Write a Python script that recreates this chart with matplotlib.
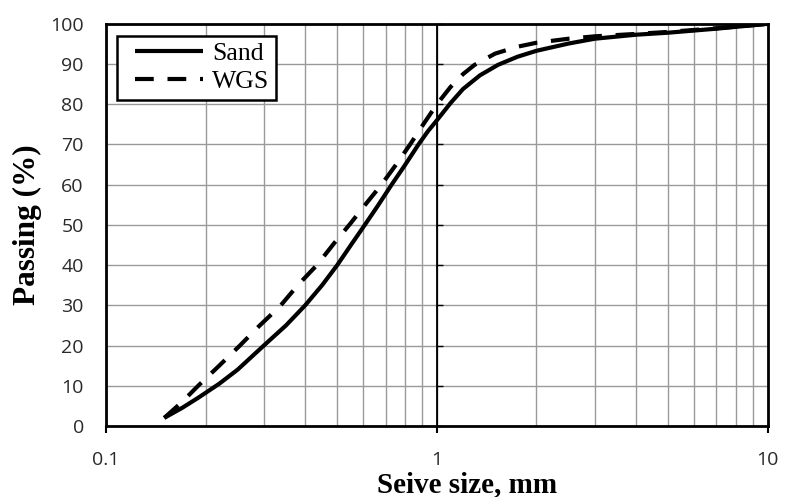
import matplotlib
matplotlib.use("Agg")
import matplotlib.pyplot as plt
from matplotlib.lines import Line2D
from matplotlib.legend_handler import HandlerLine2D
from matplotlib.ticker import NullFormatter, FixedLocator

# Grain size data (sieve size in mm, passing in %)
sand_size = [0.15, 0.17, 0.19, 0.22, 0.25, 0.3, 0.35, 0.4, 0.45, 0.5, 0.55, 0.6, 0.66, 0.73,
             0.8, 0.88, 0.94, 1.0, 1.1, 1.2, 1.35, 1.53, 1.75, 2.0, 2.5, 3.0, 4.0, 5.0, 7.0, 10.0]
sand_pass = [2, 4.5, 7, 10.5, 14, 20, 25, 30, 35, 40, 45, 49.5, 54.5, 60,
             64.8, 70, 73.3, 76, 80.3, 83.8, 87.2, 89.8, 91.8, 93.3, 95.1, 96.3, 97.3, 97.8, 98.8, 100]

wgs_size = [0.15, 0.17, 0.19, 0.22, 0.254, 0.29, 0.336, 0.38, 0.434, 0.49, 0.55, 0.61, 0.68,
            0.75, 0.83, 0.91, 1.0, 1.1, 1.2, 1.3, 1.5, 1.75, 2.0, 2.5, 3.0, 4.0, 5.0, 7.0, 10.0]
wgs_pass = [2, 6, 10, 15, 20, 24.8, 29.8, 35, 40, 45.5, 50.5, 55.2, 60,
            64.8, 70, 75, 80, 84.3, 87.5, 89.8, 92.6, 94.3, 95.3, 96.3, 96.9, 97.5, 98, 98.9, 100]

y_ticks = list(range(0, 101, 10))
x_ticks = [0.1, 1, 10]
x_tick_labels = ["0.1", "1", "10"]

tick_font = "Open Sans"
label_font = "Liberation Serif"

fig = plt.figure(figsize=(7.85, 4.97), dpi=100)
ax = fig.add_axes([0.135, 0.143, 0.843, 0.809])

ax.plot(sand_size, sand_pass, color="black", lw=3.0, label="Sand",
        solid_capstyle="butt", solid_joinstyle="round", zorder=3)
ax.plot(wgs_size, wgs_pass, color="black", lw=3.0, ls=(0, (4.5, 3.3)), label="WGS",
        dash_capstyle="butt", dash_joinstyle="round", zorder=3)

ax.set_xscale("log")
ax.set_xlim(0.1, 10)
ax.set_ylim(0, 100)
ax.set_yticks(y_ticks)
ax.set_xticks(x_ticks)
ax.set_xticklabels(x_tick_labels)
ax.xaxis.set_minor_formatter(NullFormatter())

ax.grid(True, which="both", color="#9a9a9a", lw=1.0)
ax.set_axisbelow(True)
for s in ax.spines.values():
    s.set_linewidth(2.0)
    s.set_color("black")

ax.tick_params(axis="x", which="major", direction="out", length=5, width=1.5, pad=13)
ax.tick_params(axis="x", which="minor", length=0)
ax.tick_params(axis="y", which="major", length=0, pad=16)
for lbl in ax.get_xticklabels() + ax.get_yticklabels():
    lbl.set_fontfamily(tick_font)
    lbl.set_fontsize(14)
    lbl.set_color("#2a2a2a")

# dark line at 1 mm with small ticks
ax.axvline(1, color="black", lw=1.3, zorder=1.5)
sec = ax.secondary_yaxis(0.5)
sec.set_zorder(1.6)
sec.spines["left"].set_linewidth(1.3)
sec.yaxis.set_major_locator(FixedLocator(y_ticks))
sec.tick_params(direction="out", length=4, width=1, labelleft=False, labelright=False)

ax.set_xlabel("Seive size, mm", fontfamily=label_font, fontweight="bold", fontsize=21)
ax.xaxis.set_label_coords(0.545, -0.112)
ax.set_ylabel("Passing (%)", fontfamily=label_font, fontweight="bold", fontsize=22.5)
ax.yaxis.set_label_coords(-0.097, 0.5)

leg = ax.legend(loc="upper left", bbox_to_anchor=(0.0166, 0.970), frameon=True, fancybox=False,
                edgecolor="black", framealpha=1, borderpad=0.25, handlelength=3.1,
                handletextpad=0.35, labelspacing=0.2, borderaxespad=0,
                handler_map={Line2D: HandlerLine2D(xpad=0.45)},
                prop={"family": label_font, "size": 18.5})
leg.get_frame().set_linewidth(1.8)

fig.savefig("out.png", dpi=100)
